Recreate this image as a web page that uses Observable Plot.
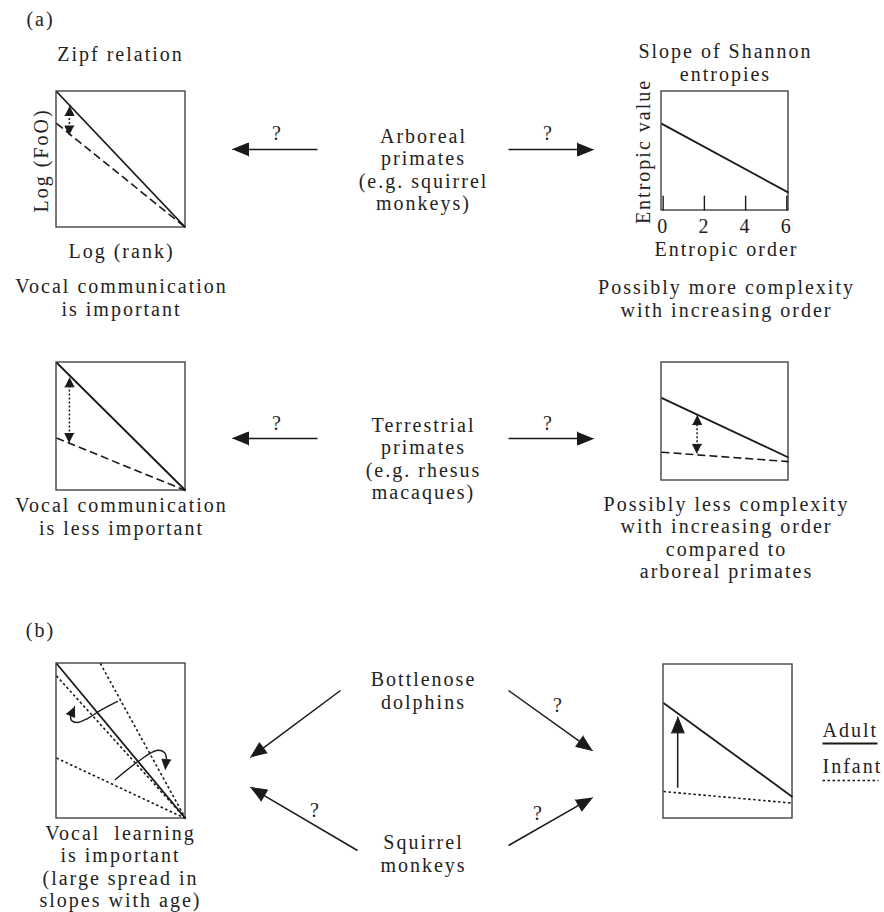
<!DOCTYPE html>
<html><head><meta charset="utf-8">
<script src="https://cdn.jsdelivr.net/npm/d3@7"></script>
<script src="https://cdn.jsdelivr.net/npm/@observablehq/plot@0.6"></script>
<style>body{margin:0;background:#fff}</style>
</head><body><div id="chart"></div>
<script>
// ---------- panel frames (page layout) ----------
const panelNames  = ["zipfArboreal","shannonArboreal","zipfTerrestrial","shannonTerrestrial","zipfLearning","shannonAge"];
const panelLeft   = [56, 661, 56, 661, 56, 663];
const panelRight  = [185, 788, 185, 788, 185, 792];
const panelTop    = [91, 91, 362, 362, 663, 664];
const panelBottom = [227, 210, 490, 480, 818, 818];

// ---------- schematic lines, unit coordinates (u: rank/order, v: log FoO / entropy) ----------
const lineSolid = [
  {panel:"zipfArboreal",       u0:0, v0:1,    u1:1, v1:0},
  {panel:"shannonArboreal",    u0:0, v0:0.73, u1:1, v1:0.15},
  {panel:"zipfTerrestrial",    u0:0, v0:1,    u1:1, v1:0},
  {panel:"shannonTerrestrial", u0:0, v0:0.70, u1:1, v1:0.195},
  {panel:"zipfLearning",       u0:0, v0:1,    u1:1, v1:0},
  {panel:"shannonAge",         u0:0, v0:0.75, u1:1, v1:0.14}
];
const lineDashed = [
  {panel:"zipfArboreal",       u0:0, v0:0.765, u1:1, v1:0},
  {panel:"zipfTerrestrial",    u0:0, v0:0.41,  u1:1, v1:0},
  {panel:"shannonTerrestrial", u0:0, v0:0.24,  u1:1, v1:0.16}
];
const lineDotted = [
  {panel:"zipfLearning", u0:0,    v0:0.92,  u1:1, v1:0},
  {panel:"zipfLearning", u0:0.34, v0:1,     u1:1, v1:0},
  {panel:"zipfLearning", u0:0,    v0:0.39,  u1:1, v1:0},
  {panel:"shannonAge",   u0:0,    v0:0.175, u1:1, v1:0.10}
];
// double-headed difference arrows
const diffArrows = [
  {panel:"zipfArboreal",       u:0.10, v0:0.68,  v1:0.89},
  {panel:"zipfTerrestrial",    u:0.10, v0:0.375, v1:0.88},
  {panel:"shannonTerrestrial", u:0.28, v0:0.23,  v1:0.55}
];
// infant -> adult arrow
const growthArrows = [{panel:"shannonAge", u:0.11, v0:0.2, v1:0.66}];
// curved slope-change arrows in vocal-learning panel
const curveUpU   = [0.473, 0.341, 0.240, 0.163, 0.116, 0.109];
const curveUpV   = [0.755, 0.697, 0.645, 0.619, 0.632, 0.665];
const curveUpTip = [0.140, 0.723];
const curveDnU   = [0.457, 0.643, 0.775, 0.837, 0.853];
const curveDnV   = [0.252, 0.374, 0.439, 0.426, 0.387];
const curveDnTip = [0.845, 0.316];
// entropic order ticks
const entropicOrders = [0, 2, 4, 6];
const orderDomain = [-0.08, 6.08];

// ---------- connectors between species and panels ----------
const connectors = [
  {x1:317, y1:149, x2:232, y2:149}, {x1:508, y1:149, x2:593, y2:149},
  {x1:317, y1:438, x2:232, y2:438}, {x1:508, y1:438, x2:593, y2:438},
  {x1:340, y1:690, x2:250, y2:757}, {x1:508, y1:690, x2:592, y2:750},
  {x1:357, y1:850, x2:250, y2:787}, {x1:508, y1:845, x2:592, y2:797}
];
const questionX = [277, 548, 277, 548, 558, 315, 538];
const questionY = [133, 133, 423, 423, 705, 810, 813];

// ---------- text ----------
const blockLabels = [
  {text:"(a)", x:40, y:18},
  {text:"(b)", x:40, y:629},
  {text:"Zipf relation", x:120, y:53},
  {text:"Log (rank)", x:121, y:250},
  {text:"Vocal communication\nis important", x:121, y:297},
  {text:"Slope of Shannon\nentropies", x:725, y:62},
  {text:"Entropic order", x:726, y:248},
  {text:"Possibly more complexity\nwith increasing order", x:726, y:298},
  {text:"Vocal communication\nis less important", x:121, y:516},
  {text:"Possibly less complexity\nwith increasing order\ncompared to\narboreal primates", x:726, y:537},
  {text:"Vocal  learning\nis important\n(large spread in\nslopes with age)", x:120, y:866}
];
const speciesLabels = [
  {text:"Arboreal\nprimates\n(e.g. squirrel\nmonkeys)", x:423, y:169},
  {text:"Terrestrial\nprimates\n(e.g. rhesus\nmacaques)", x:423, y:458},
  {text:"Bottlenose\ndolphins", x:423, y:690},
  {text:"Squirrel\nmonkeys", x:423, y:853}
];
const axisLabels = [
  {text:"Log (FoO)", x:41, y:160},
  {text:"Entropic value", x:643, y:151}
];
const legendItems = ["Adult", "Infant"];
const legendY = [730, 766];
const legendLineY = [743, 780];
const legendX = [822, 878];

// ---------- helpers ----------
const P = Object.fromEntries(panelNames.map((n, i) => [n, {l:panelLeft[i], r:panelRight[i], t:panelTop[i], b:panelBottom[i]}]));
const px = (p, u) => P[p].l + u * (P[p].r - P[p].l);
const py = (p, v) => P[p].b - v * (P[p].b - P[p].t);
const orderU = o => (o - orderDomain[0]) / (orderDomain[1] - orderDomain[0]);

function head(tx, ty, fx, fy, len, hw, id) {
  const dx = tx - fx, dy = ty - fy, L = Math.hypot(dx, dy), ux = dx / L, uy = dy / L;
  const bx = tx - ux * len, by = ty - uy * len;
  return [{id, x:tx, y:ty}, {id, x:bx - uy * hw, y:by + ux * hw}, {id, x:bx + uy * hw, y:by - ux * hw}];
}
function back(tx, ty, fx, fy, len) {
  const dx = tx - fx, dy = ty - fy, L = Math.hypot(dx, dy);
  return [tx - dx / L * len, ty - dy / L * len];
}

let heads = [];
let hid = 0;
const connShafts = connectors.map(c => {
  heads.push(...head(c.x2, c.y2, c.x1, c.y1, 16, 6.5, hid++));
  const [bx, by] = back(c.x2, c.y2, c.x1, c.y1, 12);
  return {x1:c.x1, y1:c.y1, x2:bx, y2:by};
});
const diffShafts = diffArrows.map(d => {
  const x = px(d.panel, d.u), ya = py(d.panel, d.v0), yb = py(d.panel, d.v1);
  heads.push(...head(x, ya, x, yb, 9, 4.5, hid++));
  heads.push(...head(x, yb, x, ya, 9, 4.5, hid++));
  return {x1:x, y1:ya - 7, x2:x, y2:yb + 7};
});
const growthShafts = growthArrows.map(d => {
  const x = px(d.panel, d.u), ya = py(d.panel, d.v0), yb = py(d.panel, d.v1);
  heads.push(...head(x, yb, x, ya, 16, 6.5, hid++));
  return {x1:x, y1:ya, x2:x, y2:yb + 12};
});
const curvePts = [];
curveUpU.forEach((u, i) => curvePts.push({id:"up", x:px("zipfLearning", u), y:py("zipfLearning", curveUpV[i])}));
curveDnU.forEach((u, i) => curvePts.push({id:"dn", x:px("zipfLearning", u), y:py("zipfLearning", curveDnV[i])}));
{
  const lu = curvePts.filter(d => d.id === "up").at(-1);
  heads.push(...head(px("zipfLearning", curveUpTip[0]), py("zipfLearning", curveUpTip[1]), lu.x, lu.y, 10, 4.5, hid++));
  const ld = curvePts.filter(d => d.id === "dn").at(-1);
  heads.push(...head(px("zipfLearning", curveDnTip[0]), py("zipfLearning", curveDnTip[1]), ld.x, ld.y, 10, 4.5, hid++));
}

const segOpts = {
  x1: d => px(d.panel, d.u0), y1: d => py(d.panel, d.v0),
  x2: d => px(d.panel, d.u1), y2: d => py(d.panel, d.v1)
};
const ink = "#1a1a1a";
const textOpts = {fill: "#222", fontSize: 20, textAnchor: "middle"};

const chart = Plot.plot({
  width: 884, height: 912, margin: 0,
  x: {domain: [0, 884], range: [0, 884], axis: null},
  y: {domain: [0, 912], range: [0, 912], axis: null},
  style: {fontFamily: "'Liberation Serif', serif", fontSize: "20px", letterSpacing: "2px", background: "#fff", overflow: "visible"},
  marks: [
    Plot.rect(panelNames, {x1: n => P[n].l, x2: n => P[n].r, y1: n => P[n].t, y2: n => P[n].b, fill: "none", stroke: "#444", strokeWidth: 1.4}),
    Plot.link(lineSolid, {...segOpts, stroke: ink, strokeWidth: 1.8}),
    Plot.link(lineDashed, {...segOpts, stroke: ink, strokeWidth: 1.6, strokeDasharray: "8,4"}),
    Plot.link(lineDotted, {...segOpts, stroke: ink, strokeWidth: 1.6, strokeDasharray: "2.5,2.5"}),
    Plot.link(entropicOrders, {
      x1: o => px("shannonArboreal", orderU(o)), x2: o => px("shannonArboreal", orderU(o)),
      y1: () => py("shannonArboreal", 0), y2: () => py("shannonArboreal", 0.125),
      stroke: ink, strokeWidth: 1.4}),
    Plot.text(entropicOrders, {x: o => px("shannonArboreal", orderU(o)), y: () => 226, text: o => String(o), ...textOpts}),
    Plot.link(diffShafts, {x1:"x1", y1:"y1", x2:"x2", y2:"y2", stroke: ink, strokeWidth: 1.5, strokeDasharray: "2,2"}),
    Plot.link(growthShafts, {x1:"x1", y1:"y1", x2:"x2", y2:"y2", stroke: ink, strokeWidth: 1.5}),
    Plot.link(connShafts, {x1:"x1", y1:"y1", x2:"x2", y2:"y2", stroke: ink, strokeWidth: 1.5}),
    Plot.line(curvePts, {x:"x", y:"y", z:"id", curve:"catmull-rom", stroke: ink, strokeWidth: 1.4}),
    Plot.line(heads, {x:"x", y:"y", z:"id", fill: ink, stroke: ink, strokeWidth: 1}),
    Plot.text(blockLabels, {x:"x", y:"y", text:"text", lineHeight: 1.12, ...textOpts}),
    Plot.text(speciesLabels, {x:"x", y:"y", text:"text", lineHeight: 1.12, ...textOpts}),
    Plot.text(axisLabels, {x:"x", y:"y", text:"text", rotate: -90, ...textOpts}),
    Plot.text(questionX, {x: d => d, y: (d, i) => questionY[i], text: () => "?", ...textOpts}),
    Plot.text(legendItems, {x: () => legendX[0], y: (d, i) => legendY[i], text: d => d, ...textOpts, textAnchor: "start"}),
    Plot.link([0], {x1: () => legendX[0], x2: () => legendX[1] - 1, y1: () => legendLineY[0], y2: () => legendLineY[0], stroke: ink, strokeWidth: 1.8}),
    Plot.link([1], {x1: () => legendX[0], x2: () => legendX[1], y1: () => legendLineY[1], y2: () => legendLineY[1], stroke: ink, strokeWidth: 1.6, strokeDasharray: "2.5,2.5"})
  ]
});
document.getElementById("chart").appendChild(chart);
</script>
</body></html>
